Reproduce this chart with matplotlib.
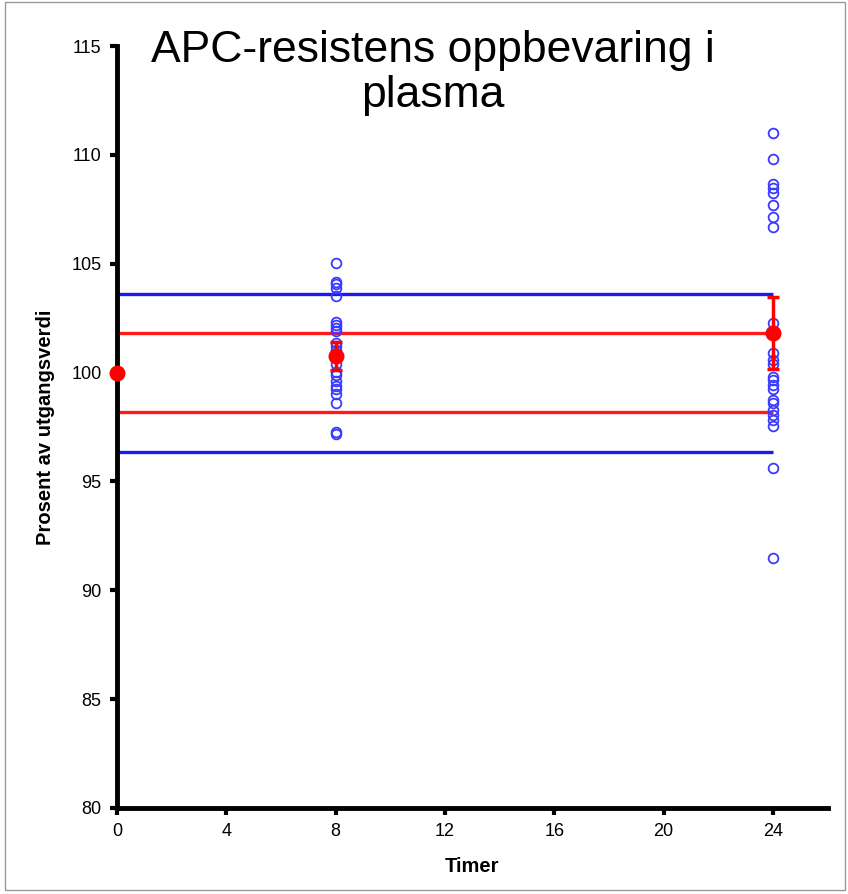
import numpy as np
import matplotlib.pyplot as plt
from matplotlib.patches import Rectangle

# data
timer_8 = [105.05, 104.18, 104.05, 103.9, 103.5, 102.34, 102.19, 102.06, 101.9,
           101.35, 101.2, 101.05, 100.4, 100.04, 99.9, 99.6, 99.4, 99.25, 99.0,
           98.6, 97.26, 97.2]
timer_24 = [111.0, 109.8, 108.66, 108.46, 108.26, 107.7, 107.16, 106.7, 102.3,
            101.8, 100.9, 100.6, 100.4, 99.8, 99.66, 99.43, 99.23, 98.74, 98.59,
            98.28, 98.05, 97.82, 97.55, 95.6, 91.5]
mean_x = [0, 8, 24]
mean_y = [100.0, 100.75, 101.8]
mean_err = [0.0, 0.65, 1.65]
red_limits = [98.2, 101.8]
blue_limits = [96.35, 103.6]
x_ticks = [0, 4, 8, 12, 16, 20, 24]
y_ticks = [80, 85, 90, 95, 100, 105, 110, 115]

plt.rcParams['font.family'] = ['Liberation Sans', 'DejaVu Sans']

fig = plt.figure(figsize=(8.48, 8.94), dpi=100)
ax = fig.add_axes([0.138, 0.0962, 0.838, 0.8523])

# reference lines
ax.hlines(blue_limits, 0, 24, colors='#1a1aee', lw=2.4, zorder=2)
ax.hlines(red_limits, 0, 24, colors='#ff1a1a', lw=2.4, zorder=2)

# individual values
circ = dict(ls='none', marker='o', ms=7, mfc='none', mec='#3b3bff', mew=1.3, zorder=3)
ax.plot([8] * len(timer_8), timer_8, **circ)
ax.plot([24] * len(timer_24), timer_24, **circ)

# means with error bars
ax.errorbar(mean_x, mean_y, yerr=mean_err, fmt='o', color='#ff0000', ms=10.5,
            elinewidth=2.5, capsize=4, capthick=2.5, zorder=4, clip_on=False)

ax.set_xlim(0, 26)
ax.set_ylim(80, 115)
ax.set_xticks(x_ticks)
ax.set_yticks(y_ticks)
for s in ['top', 'right']:
    ax.spines[s].set_visible(False)
for s in ['left', 'bottom']:
    ax.spines[s].set_linewidth(3.5)
ax.tick_params(width=3, length=5, labelsize=13, direction='out', pad=6)

ax.set_xlabel('Timer', fontsize=14.5, fontweight='bold', labelpad=12)
ax.set_ylabel('Prosent av utgangsverdi', fontsize=14.5, fontweight='bold', labelpad=12)

fig.text(0.51, 0.966, 'APC-resistens oppbevaring i\nplasma', ha='center', va='top',
         fontsize=32, linespacing=1.12)

# thin frame around the figure
fig.patches.append(Rectangle((0.006, 0.004), 0.99, 0.994, transform=fig.transFigure,
                             fill=False, ec='#999999', lw=1))

fig.savefig('out.png', dpi=100)
